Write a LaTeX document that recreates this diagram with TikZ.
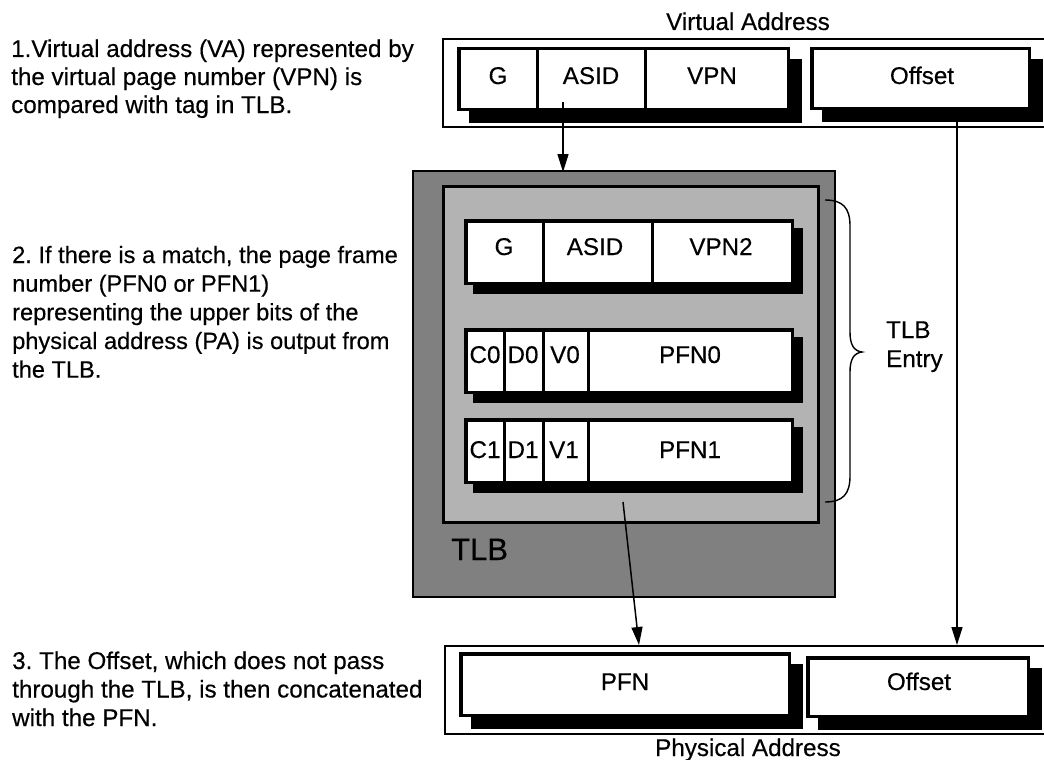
\documentclass[tikz,border=0pt]{standalone}
\usepackage{fontspec}
\setmainfont[FakeBold=0.35]{Liberation Sans}
\usetikzlibrary{arrows.meta,calc}
\definecolor{tlbdark}{HTML}{808080}
\definecolor{tlblight}{HTML}{B3B3B3}
\tikzset{
  fieldborder/.style={draw=black,line width=3.5pt,fill=white},
  divline/.style={draw=black,line width=3pt},
  outerbox/.style={draw=black,line width=2pt},
  cell/.style={anchor=base,inner sep=0pt,font=\fontsize{24.2}{28}\selectfont},
  note/.style={anchor=base west,inner sep=0pt,font=\frenchspacing\fontsize{24.2}{28}\selectfont},
  notesmall/.style={note,font=\frenchspacing\fontsize{23.6}{28}\selectfont},
  arr/.style={draw=black,line width=1.5pt,-{Triangle[length=18pt,width=11pt]}},
}
\newcommand\shadowedbox[6]{%
  \fill[black] (#2+#6,#3+#6) rectangle (#4+#6,#5+#6);
  \draw[fieldborder] (#2+1.75,#3+1.75) rectangle (#4-1.75,#5-1.75);
  \coordinate (#1-nw) at (#2,#3);
  \coordinate (#1-se) at (#4,#5);
}
\newcommand\fielddiv[3]{\draw[divline] (#1,#2) -- (#1,#3);}
\begin{document}
\begin{tikzpicture}[x=1pt,y=-1pt]
\useasboundingbox (0,0) rectangle (1044,760);
\clip (0,0) rectangle (1044,760);

% ---------- left notes ----------
\node[note] (n1a) at (11,57)  {1.Virtual address (VA) represented by};
\node[note] (n1b) at (11,85)  {the virtual page number (VPN) is};
\node[note] (n1c) at (11,113) {compared with tag in TLB.};

\node[notesmall] (n2a) at (12,263)   {2. If there is a match, the page frame};
\node[notesmall] (n2b) at (12,291.7) {number (PFN0 or PFN1)};
\node[notesmall] (n2c) at (12,320.3) {representing the upper bits of the};
\node[notesmall] (n2d) at (12,349)   {physical address (PA) is output from};
\node[notesmall] (n2e) at (12,377.6) {the TLB.};

\node[note] (n3a) at (12,669)   {3. The Offset, which does not pass};
\node[note] (n3b) at (12,697.5) {through the TLB, is then concatenated};
\node[note] (n3c) at (12,726)   {with the PFN.};

% ---------- virtual address ----------
\node[cell] (valabel) at (748,30) {Virtual Address};
\draw[outerbox] (443,39) rectangle (1060,127);
\shadowedbox{vtag}{457}{47}{790}{111}{12}
\fielddiv{537}{48}{110}
\fielddiv{645}{48}{110}
\node[cell] (vg)    at (498,84) {G};
\node[cell] (vasid) at (591,84) {ASID};
\node[cell] (vvpn)  at (712,84) {VPN};
\shadowedbox{voff}{810}{47}{1031}{110}{12}
\node[cell] (voffset) at (922,84) {Offset};

% ---------- TLB ----------
\draw[outerbox,fill=tlbdark] (413,171) rectangle (835,597);
\draw[draw=black,line width=2.5pt,fill=tlblight] (443.5,186.5) rectangle (818.5,522.5);
\node[anchor=base west,inner sep=0pt,font=\fontsize{31}{36}\selectfont] (tlblabel) at (451,560) {TLB};

\shadowedbox{r1}{464}{219}{794}{285}{9}
\fielddiv{543}{220}{284}
\fielddiv{652}{220}{284}
\node[cell] (r1g)    at (504,255) {G};
\node[cell] (r1asid) at (595,255) {ASID};
\node[cell] (r1vpn)  at (721,255) {VPN2};

\shadowedbox{r2}{464}{328}{794}{394}{9}
\fielddiv{504}{329}{393}
\fielddiv{543}{329}{393}
\fielddiv{588}{329}{393}
\node[cell] (r2c) at (485,363) {C0};
\node[cell] (r2d) at (523,363) {D0};
\node[cell] (r2v) at (565,363) {V0};
\node[cell] (r2p) at (690,363) {PFN0};

\shadowedbox{r3}{464}{418}{794}{484}{9}
\fielddiv{504}{419}{483}
\fielddiv{543}{419}{483}
\fielddiv{588}{419}{483}
\node[cell] (r3c) at (485,458) {C1};
\node[cell] (r3d) at (523,458) {D1};
\node[cell] (r3v) at (564,458) {V1};
\node[cell] (r3p) at (690,458) {PFN1};

% brace
\draw[line width=1.4pt] (825,200) .. controls (843,200) and (850,208) .. (850,226)
  -- (850,332) .. controls (850,345) and (854,351) .. (862,352)
  .. controls (854,353) and (850,359) .. (850,372)
  -- (850,476) .. controls (850,494) and (843,502) .. (825,502);
\node[anchor=base west,inner sep=0pt,align=left,font=\fontsize{24.2}{29}\selectfont] (entry) at (886,367) {TLB\\Entry};

% ---------- physical address ----------
\draw[outerbox] (445,646) rectangle (1060,734);
\shadowedbox{ppfn}{459}{652}{791}{717}{12}
\node[cell] (ppfnl) at (625,690) {PFN};
\shadowedbox{poff}{806}{656}{1030}{718}{12}
\node[cell] (poffl) at (919,690) {Offset};
\node[cell] (palabel) at (748,756) {Physical Address};

% ---------- connectors ----------
\coordinate (asidTail) at (563,102);
\coordinate (tlbTop) at (563,172);
\coordinate (offTail) at (957,122);
\coordinate (offHead) at (957,645);
\coordinate (pfnTail) at (623,502);
\coordinate (pfnHead) at (639,645);
\draw[arr] (asidTail) -- (tlbTop);
\draw[arr] (offTail) -- (offHead);
\draw[arr] (pfnTail) -- (pfnHead);
\end{tikzpicture}
\end{document}
